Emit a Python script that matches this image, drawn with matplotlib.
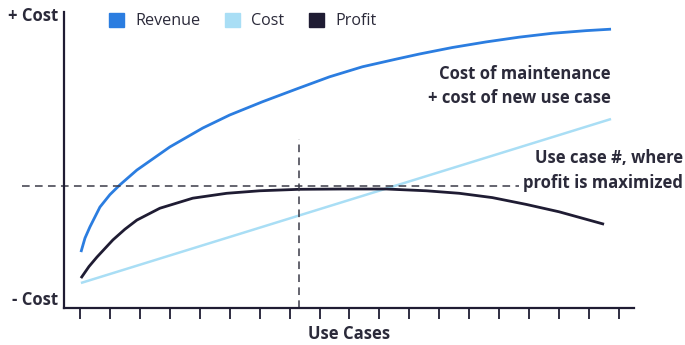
import matplotlib

matplotlib.use("Agg")
import matplotlib.pyplot as plt
from matplotlib.patches import Patch

plt.rcParams["font.family"] = ["Open Sans", "DejaVu Sans"]

# Use case index on x, arbitrary cost/value units (0-100) on y
use_case_ticks = list(range(1, 20))

revenue_x = [1.033, 1.167, 1.333, 1.667, 2.0, 2.333, 2.9, 4.0, 5.1, 6.0, 7.1,
             8.233, 9.333, 10.433, 11.567, 12.333, 13.433, 14.567, 15.667,
             16.767, 17.9, 18.733]
revenue_y = [18.9, 23.6, 27.4, 34.1, 38.3, 41.6, 46.6, 54.4, 60.8, 65.2, 69.7,
             74.0, 78.1, 81.5, 84.1, 85.8, 88.0, 89.9, 91.5, 92.8, 93.7, 94.2]

cost_x = [1.033, 18.733]
cost_y = [8.45, 63.85]

profit_x = [1.033, 1.3, 1.567, 2.1, 2.5, 2.9, 3.667, 4.767, 5.9, 7.0, 8.333,
            9.767, 11.233, 12.567, 13.667, 14.767, 15.9, 17.0, 18.5]
profit_y = [10.1, 14.0, 17.2, 23.0, 26.6, 29.7, 33.7, 37.1, 38.75, 39.6, 40.1,
            40.2, 40.2, 39.6, 38.75, 37.3, 35.0, 32.5, 28.3]

optimum_x = 8.33
optimum_level = 41.2
optimum_top = 57.1

C_REV = "#2b7de0"
C_COST = "#a9def5"
C_PROFIT = "#1f1c33"
C_TEXT = "#2b2a3a"
C_DASH = "#3a3a48"

fig = plt.figure(figsize=(6.85, 3.45), dpi=100)
ax = fig.add_axes([64 / 685, 37 / 345, 570 / 685, 296 / 345])

line_kw = dict(solid_joinstyle="round", solid_capstyle="butt")
ax.plot(revenue_x, revenue_y, color=C_REV, lw=2.0, **line_kw)
ax.plot(cost_x, cost_y, color=C_COST, lw=1.8, **line_kw)
ax.plot(profit_x, profit_y, color=C_PROFIT, lw=2.0, **line_kw)

# optimum markers
ax.plot([-0.93, 15.67], [optimum_level, optimum_level], color=C_DASH, lw=1.1,
        ls=(0, (5, 3.5)), clip_on=False)
ax.plot([optimum_x, optimum_x], [0, optimum_top], color=C_DASH, lw=1.1,
        ls=(0, (5, 3.5)))

ax.set_xlim(0.467, 19.5)
ax.set_ylim(0, 100)
for side in ("top", "right"):
    ax.spines[side].set_visible(False)
for side in ("left", "bottom"):
    ax.spines[side].set_color(C_PROFIT)
    ax.spines[side].set_linewidth(1.6)
ax.set_yticks([])
ax.set_xticks(use_case_ticks)
ax.set_xticklabels([])
ax.tick_params(axis="x", direction="out", length=8, width=1.3, color=C_PROFIT)

txt = dict(fontsize=12, fontweight="bold", color=C_TEXT)
ax.set_xlabel("Use Cases", va="center", **txt)
ax.xaxis.set_label_coords(0.5, -26 / 296)

fig.text(58 / 685, 1 - 16 / 345, "+ Cost", ha="right", va="center", **txt)
fig.text(58 / 685, 1 - 300 / 345, "- Cost", ha="right", va="center", **txt)
fig.text(611 / 685, 1 - 86 / 345, "Cost of maintenance\n+ cost of new use case",
         ha="right", va="center", linespacing=1.42, **txt)
fig.text(683 / 685, 1 - 170.5 / 345, "Use case #, where\nprofit is maximized",
         ha="right", va="center", linespacing=1.45, **txt)

handles = [Patch(color=C_REV, label="Revenue"),
           Patch(color=C_COST, label="Cost"),
           Patch(color=C_PROFIT, label="Profit")]
leg = fig.legend(handles=handles, loc="center left",
                 bbox_to_anchor=(109 / 685, 1 - 21 / 345), ncol=3, frameon=False,
                 borderpad=0, borderaxespad=0,
                 handlelength=0.95, handleheight=0.95, handletextpad=0.7,
                 columnspacing=1.5, prop={"size": 11.6})
for t in leg.get_texts():
    t.set_color(C_TEXT)

fig.savefig("out.png", dpi=100)
